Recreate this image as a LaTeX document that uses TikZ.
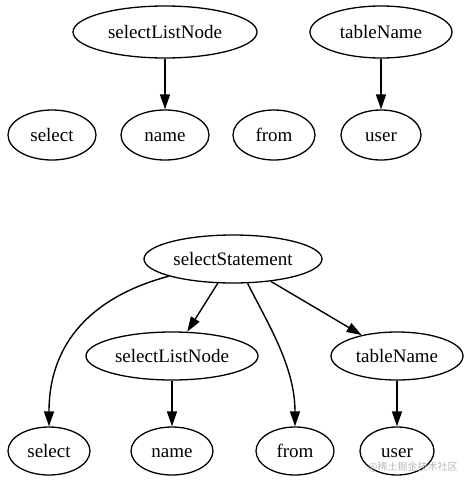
\documentclass[tikz,border=0pt]{standalone}
\usepackage{fontspec}
\setmainfont{Liberation Serif}
\newfontfamily\cjkfont{Noto Sans CJK SC}
\usetikzlibrary{shapes.geometric, arrows.meta}

\begin{document}
\begin{tikzpicture}[
        x=1pt, y=-1pt,
        >={Triangle[length=15pt, width=10pt]},
        leaf/.style={draw, ellipse, line width=1.3pt, inner sep=0pt, text height=14pt, text depth=2pt, font=\fontsize{19}{22}\selectfont},
        edge/.style={->, line width=1.4pt}
    ]
        \useasboundingbox (0,0) rectangle (471,485);

        % Top graph
        \node[leaf, minimum width=184pt, minimum height=52pt] (t_list) at (165,32) {selectListNode};
        \node[leaf, minimum width=142pt, minimum height=52pt] (t_table) at (381,32) {tableName};
        \node[leaf, minimum width=88pt, minimum height=50pt] (t_select) at (52,135) {select};
        \node[leaf, minimum width=88pt, minimum height=50pt] (t_name) at (165,135) {name};
        \node[leaf, minimum width=82pt, minimum height=50pt] (t_from) at (274,135) {from};
        \node[leaf, minimum width=80pt, minimum height=50pt] (t_user) at (381,135) {user};

        % Bottom graph
        \node[leaf, minimum width=178pt, minimum height=48pt] (b_stmt) at (233,259) {selectStatement};
        \node[leaf, minimum width=172pt, minimum height=48pt] (b_list) at (172,356) {selectListNode};
        \node[leaf, minimum width=132pt, minimum height=48pt] (b_table) at (397,356) {tableName};
        \node[leaf, minimum width=82pt, minimum height=48pt] (b_select) at (49,451) {select};
        \node[leaf, minimum width=82pt, minimum height=48pt] (b_name) at (172,451) {name};
        \node[leaf, minimum width=78pt, minimum height=48pt] (b_from) at (295,451) {from};
        \node[leaf, minimum width=74pt, minimum height=48pt] (b_user) at (397,451) {user};

        % Watermark
        \node[text=gray!55, font=\cjkfont\fontsize{10}{12}\selectfont, anchor=west, inner sep=0pt] (mark) at (368,467) {@稀土掘金技术社区};

        % Edges
        \draw[edge] (t_list) -- (t_name);
        \draw[edge] (t_table) -- (t_user);

        \draw[edge] (b_stmt.195) .. controls +(-75,20) and +(0,-85) .. (b_select.north);
        \draw[edge] (b_stmt) -- (b_list);
        \draw[edge] (b_stmt.-59) .. controls +(20,40) and +(0,-60) .. (b_from.north);
        \draw[edge] (b_stmt) -- (b_table);
        \draw[edge] (b_list) -- (b_name);
        \draw[edge] (b_table) -- (b_user);

    \end{tikzpicture}
\end{document}
